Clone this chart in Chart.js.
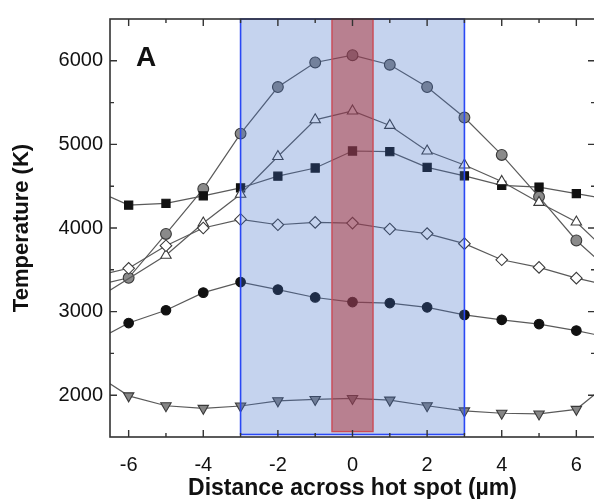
<!DOCTYPE html>
<html>
<head>
<meta charset="utf-8">
<script src="https://cdn.jsdelivr.net/npm/chart.js@4.4.1/dist/chart.umd.min.js"></script>
<style>
  html, body { margin: 0; padding: 0; background: #ffffff; overflow: hidden; }
  #wrap { width: 594px; height: 499px; overflow: hidden; }
</style>
</head>
<body>
<div id="wrap"><canvas id="c" width="595" height="499"></canvas></div>
<script>
// ---- data (edge entries at ±6.5 carry the lines to the frame, no marker) ----
const distance      = [-6.5, -6, -5, -4, -3, -2, -1, 0, 1, 2, 3, 4, 5, 6, 6.5];
const grayCircles   = [3353, 3404, 3929, 4467, 5129, 5686, 5980, 6067, 5953, 5686, 5321, 4874, 4373, 3851, 3650];
const openTriangles = [3255, null, 3674, 4059, 4404, 4855, 5294, 5400, 5227, 4921, 4753, 4557, 4306, 4071, 3859];
const blackSquares  = [4373, 4274, 4294, 4385, 4479, 4620, 4718, 4921, 4914, 4726, 4624, 4510, 4490, 4412, 4373];
const openDiamonds  = [3465, 3518, 3788, 4000, 4102, 4039, 4067, 4059, 3988, 3933, 3813, 3620, 3529, 3400, 3350];
const blackCircles  = [2745, 2863, 3016, 3227, 3353, 3263, 3169, 3114, 3102, 3051, 2961, 2902, 2851, 2773, 2726];
const grayDownTris  = [2137, 1992, 1874, 1843, 1871, 1933, 1949, 1961, 1941, 1874, 1812, 1784, 1776, 1831, 2012];

const xTickLabels = [-6, -4, -2, 0, 2, 4, 6];
const xMinorTicks = [-5, -3, -1, 1, 3, 5];
const yTickLabels = [2000, 3000, 4000, 5000, 6000];
const yMinorTicks = [2500, 3500, 4500, 5500];

const hotZone  = [-3, 3, 1530, 6500];      // blue band: x0, x1, y0, y1
const coreZone = [-0.55, 0.55, 1565, 6500]; // red band

const xRange = [-6.5, 6.5];
const yRange = [1500, 6500];

function pts(vals) {
  const out = [];
  vals.forEach((v, i) => { if (v !== null) out.push({ x: distance[i], y: v }); });
  return out;
}
function radiusFor(vals, r) {
  return pts(vals).map(p => (Math.abs(p.x) > 6.1 ? 0 : r));
}

const lineColor = '#5a5a5a';
function ds(vals, style, r, fill, border, rot) {
  return {
    data: pts(vals),
    showLine: true,
    borderColor: lineColor,
    borderWidth: 1.2,
    pointStyle: style,
    pointRadius: radiusFor(vals, r),
    pointRotation: rot || 0,
    pointBackgroundColor: fill,
    pointBorderColor: border,
    pointBorderWidth: 1.1,
    tension: 0
  };
}

const datasets = [
  ds(grayDownTris, 'triangle', 6, '#858585', '#3a3a3a', 180),
  ds(blackCircles, 'circle', 4.8, '#111111', '#111111'),
  ds(openDiamonds, 'rectRot', 5.8, '#ffffff', '#3a3a3a'),
  ds(openTriangles, 'triangle', 6, '#ffffff', '#3a3a3a'),
  ds(blackSquares, 'rect', 5.8, '#111111', '#111111'),
  ds(grayCircles, 'circle', 5.4, '#8a8a8a', '#3a3a3a')
];

const overlay = {
  id: 'overlay',
  afterDatasetsDraw(chart) {
    const { ctx, chartArea: a, scales: { x, y } } = chart;
    ctx.save();
    // blue band
    let x0 = x.getPixelForValue(hotZone[0]), x1 = x.getPixelForValue(hotZone[1]);
    let y0 = y.getPixelForValue(hotZone[3]), y1 = y.getPixelForValue(hotZone[2]);
    ctx.fillStyle = 'rgba(62,108,198,0.30)';
    ctx.fillRect(x0, y0, x1 - x0, y1 - y0);
    ctx.strokeStyle = '#2a48f5';
    ctx.lineWidth = 1.6;
    ctx.strokeRect(x0, y0, x1 - x0, y1 - y0);
    // red band
    x0 = x.getPixelForValue(coreZone[0]); x1 = x.getPixelForValue(coreZone[1]);
    y0 = y.getPixelForValue(coreZone[3]); y1 = y.getPixelForValue(coreZone[2]);
    ctx.fillStyle = 'rgba(171,45,50,0.50)';
    ctx.fillRect(x0, y0, x1 - x0, y1 - y0);
    ctx.strokeStyle = '#cc4a55';
    ctx.lineWidth = 1.4;
    ctx.strokeRect(x0, y0, x1 - x0, y1 - y0);

    // frame
    ctx.strokeStyle = '#333333';
    ctx.lineWidth = 1.6;
    ctx.strokeRect(a.left, a.top, a.right - a.left, a.bottom - a.top);
    // inward ticks
    ctx.lineWidth = 1.4;
    const major = 7, minor = 4;
    const xt = (v, len) => {
      const px = x.getPixelForValue(v);
      ctx.beginPath();
      ctx.moveTo(px, a.bottom); ctx.lineTo(px, a.bottom - len);
      ctx.moveTo(px, a.top); ctx.lineTo(px, a.top + len);
      ctx.stroke();
    };
    const yt = (v, len) => {
      const py = y.getPixelForValue(v);
      ctx.beginPath();
      ctx.moveTo(a.left, py); ctx.lineTo(a.left + len, py);
      ctx.moveTo(a.right, py); ctx.lineTo(a.right - len, py);
      ctx.stroke();
    };
    xTickLabels.forEach(v => xt(v, major));
    xMinorTicks.forEach(v => xt(v, minor));
    yTickLabels.forEach(v => yt(v, major));
    yMinorTicks.forEach(v => yt(v, minor));

    // panel letter
    ctx.fillStyle = '#111111';
    ctx.font = 'bold 28px "Liberation Sans", Arial, sans-serif';
    ctx.textAlign = 'left';
    ctx.textBaseline = 'alphabetic';
    ctx.fillText('A', a.left + 26, a.top + 47);
    ctx.restore();
  }
};

const tickFont = { family: '"Liberation Sans", Arial, sans-serif', size: 20 };
const xTitleFont = { family: '"Liberation Sans", Arial, sans-serif', size: 23, weight: 'bold' };
const yTitleFont = { family: '"Liberation Sans", Arial, sans-serif', size: 22, weight: 'bold' };

new Chart(document.getElementById('c'), {
  type: 'scatter',
  data: { datasets },
  options: {
    responsive: false,
    animation: false,
    layout: { padding: { top: 13, right: 0, left: 0, bottom: 0 } },
    plugins: { legend: { display: false }, tooltip: { enabled: false } },
    scales: {
      x: {
        type: 'linear', min: xRange[0], max: xRange[1],
        grid: { display: false, drawTicks: false },
        border: { display: false },
        afterBuildTicks: s => { s.ticks = xTickLabels.map(v => ({ value: v })); },
        ticks: { color: '#111111', font: tickFont, padding: 16, autoSkip: false, maxRotation: 0,
                 callback: v => String(v) },
        title: { display: true, text: 'Distance across hot spot (µm)', color: '#111111', font: xTitleFont, padding: { top: 0, bottom: -3 } },
        afterFit: s => { s.height = 62; s.paddingRight = 0; s.paddingLeft = 0; }
      },
      y: {
        type: 'linear', min: yRange[0], max: yRange[1],
        grid: { display: false, drawTicks: false },
        border: { display: false },
        afterBuildTicks: s => { s.ticks = yTickLabels.map(v => ({ value: v })); },
        ticks: { color: '#111111', font: tickFont, padding: 7, autoSkip: false,
                 callback: v => String(v) },
        title: { display: true, text: 'Temperature (K)', color: '#111111', font: yTitleFont, padding: { top: 9, bottom: 0 } },
        afterFit: s => { s.width = 110; }
      }
    }
  },
  plugins: [overlay]
});
</script>
</body>
</html>
